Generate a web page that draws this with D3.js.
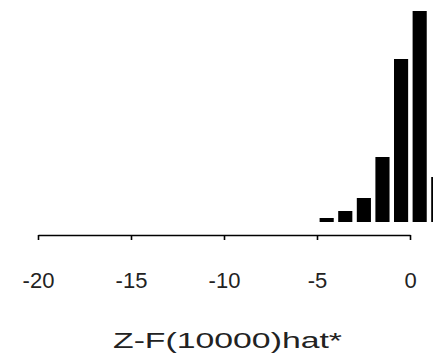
<!DOCTYPE html>
<html><head><meta charset="utf-8">
<script src="https://cdn.jsdelivr.net/npm/d3@7"></script>
<style>body{margin:0;background:#fff}svg{display:block}</style>
</head><body>
<svg id="c" width="433" height="358"></svg>
<script>
const binStarts = [-5, -4, -3, -2, -1, 0, 1];
const counts = [4, 11, 24, 65, 163, 211, 45];
const tickValues = [-20, -15, -10, -5, 0];
const tickLabels = ["-20", "-15", "-10", "-5", "0"];
const xTitle = "Z-F(10000)hat*";

const svg = d3.select("#c");
const x = d3.scaleLinear().domain([-20, 0]).range([38, 410]);
const y = d3.scaleLinear().domain([0, 211]).range([222, 11]);

svg.append("g").selectAll("rect").data(binStarts).join("rect")
  .attr("x", (d) => x(d + 0.14))
  .attr("width", (d) => x(d + 0.9) - x(d + 0.14))
  .attr("y", (d, i) => y(counts[i]))
  .attr("height", (d, i) => y(0) - y(counts[i]))
  .attr("fill", "#000");

const ax = svg.append("g").attr("transform", "translate(0,235)")
  .call(d3.axisBottom(x).tickValues(tickValues).tickSize(5).tickSizeOuter(0)
    .tickFormat((d, i) => tickLabels[i]));
ax.select(".domain").attr("stroke", "#000").attr("stroke-width", 1.6);
ax.selectAll(".tick line").attr("stroke", "#000").attr("stroke-width", 1.6);
ax.selectAll(".tick text").attr("font-family", "Liberation Sans, Arial, sans-serif")
  .attr("font-size", 22).attr("fill", "#222").attr("y", 53).attr("dy", null);

svg.append("text").attr("x", 227.5).attr("y", 348).attr("text-anchor", "middle")
  .attr("font-family", "Liberation Sans, Arial, sans-serif").attr("font-size", 22)
  .attr("fill", "#222")
  .attr("textLength", 229).attr("lengthAdjust", "spacingAndGlyphs")
  .text(xTitle);
</script>
</body></html>
